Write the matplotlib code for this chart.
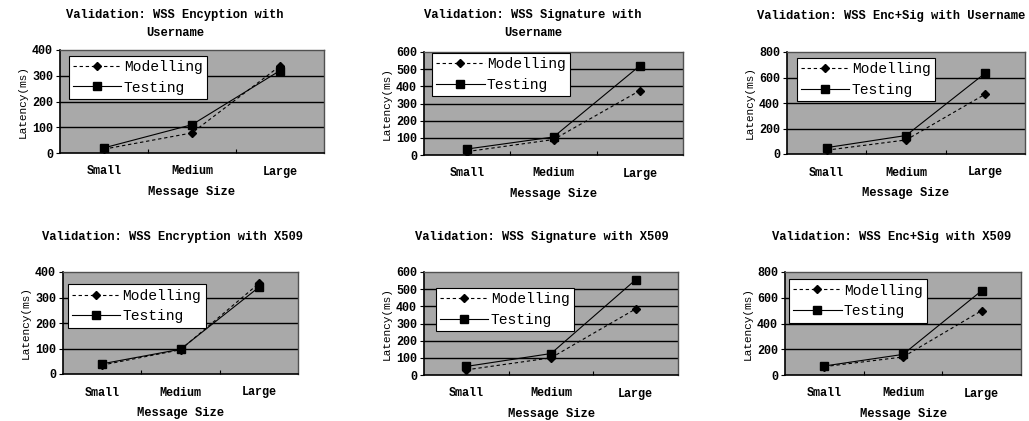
import matplotlib
matplotlib.use("Agg")
import matplotlib.pyplot as plt

# data
sizes = ["Small", "Medium", "Large"]

titles = [
    "Validation: WSS Encyption with\nUsername",
    "Validation: WSS Signature with\nUsername",
    "Validation: WSS Enc+Sig with Username",
    "Validation: WSS Encryption with X509",
    "Validation: WSS Signature with X509",
    "Validation: WSS Enc+Sig with X509",
]

modelling = [
    [15, 78, 338],
    [20, 90, 375],
    [30, 110, 470],
    [35, 95, 355],
    [30, 100, 385],
    [65, 140, 500],
]
testing = [
    [20, 110, 320],
    [35, 105, 520],
    [50, 145, 635],
    [40, 97, 340],
    [50, 125, 555],
    [70, 160, 655],
]

ymax = [400, 600, 800, 400, 600, 800]
ystep = [100, 100, 200, 100, 100, 200]

W, H = 1029, 421

# axes boxes in pixels: left, top, right, bottom
boxes = [
    (60, 50, 324, 153),
    (424, 52, 683, 155),
    (787, 52, 1025, 154),
    (63, 272, 298, 374),
    (424, 272, 678, 375),
    (785, 272, 1021, 375),
]
# title centre in pixels (x, y)
title_pos = [(175, 24), (533, 24), (891, 16), (172, 237), (542, 237), (892, 237)]
# legend upper-left corner in axes fraction
leg_pos = [(0.034, 0.945), (0.031, 0.99), (0.042, 0.94),
           (0.021, 0.88), (0.047, 0.845), (0.017, 0.93)]

mono = "Liberation Mono"
bg = "#a9a9a9"

fig = plt.figure(figsize=(W / 100, H / 100), dpi=100)

for i in range(6):
    l, t, r, b = boxes[i]
    ax = fig.add_axes([l / W, 1 - b / H, (r - l) / W, (b - t) / H])
    ax.set_facecolor(bg)
    x = range(len(sizes))
    ax.plot(x, modelling[i], color="black", lw=0.8, ls=(0, (3, 2.5)),
            marker="D", ms=4.5, label="Modelling", zorder=3)
    ax.plot(x, testing[i], color="black", lw=0.8, ls="-",
            marker="s", ms=5.5, label="Testing", zorder=3)

    ax.set_xlim(-0.5, 2.5)
    ax.set_ylim(0, ymax[i])
    ax.set_yticks(range(0, ymax[i] + 1, ystep[i]))
    for yv in range(ystep[i], ymax[i], ystep[i]):
        ax.axhline(yv, color="black", lw=1.0, zorder=1)

    ax.set_xticks(list(x))
    ax.set_xticklabels(sizes, fontfamily=mono, fontweight="bold", fontsize=8.5)
    ax.tick_params(axis="x", which="major", length=0, pad=9)
    ax.set_xticks([0.5, 1.5], minor=True)
    ax.tick_params(axis="x", which="minor", length=3, direction="in", width=0.8)
    ax.tick_params(axis="y", length=3, direction="out", width=0.8, pad=2)
    for lab in ax.get_yticklabels():
        lab.set_fontfamily(mono)
        lab.set_fontweight("bold")
        lab.set_fontsize(8.5)

    for s in ["left", "bottom"]:
        ax.spines[s].set_color("black")
        ax.spines[s].set_linewidth(1.2)
    for s in ["top", "right"]:
        ax.spines[s].set_color("#505050")
        ax.spines[s].set_linewidth(1.0)

    ax.set_xlabel("Message Size", fontfamily=mono, fontweight="bold",
                  fontsize=8.7, labelpad=6)
    ax.set_ylabel("Latency(ms)", fontfamily=mono, fontsize=8, labelpad=3)

    leg = ax.legend(loc="upper left", bbox_to_anchor=leg_pos[i],
                    prop={"family": mono, "size": 10.5},
                    frameon=True, fancybox=False, framealpha=1,
                    edgecolor="black", borderpad=0.3, labelspacing=0.45,
                    handlelength=3.3, handletextpad=0.15, borderaxespad=0)
    leg.get_frame().set_linewidth(0.8)

    tx, ty = title_pos[i]
    fig.text(tx / W, 1 - ty / H, titles[i], ha="center", va="center",
             fontfamily=mono, fontweight="bold", fontsize=8.7, linespacing=1.6)

fig.savefig("out.png", dpi=100, facecolor="white")
